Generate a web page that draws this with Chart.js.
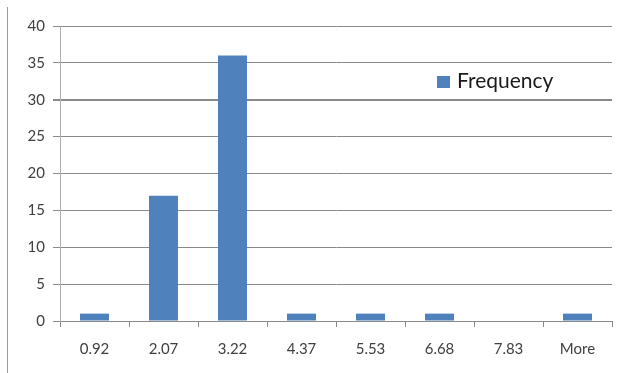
<!DOCTYPE html>
<html>
<head>
<meta charset="utf-8">
<script src="https://cdn.jsdelivr.net/npm/chart.js@4/dist/chart.umd.min.js"></script>
<style>
  html, body { margin: 0; padding: 0; background: #ffffff; }
  #wrap { position: relative; width: 619px; height: 373px; }
  canvas { display: block; }
</style>
</head>
<body>
<div id="wrap"><canvas id="c" width="619" height="373"></canvas></div>
<script>
// Histogram bins and counts
const binLabels = ['0.92', '2.07', '3.22', '4.37', '5.53', '6.68', '7.83', 'More'];
const frequency = [1, 17, 36, 1, 1, 1, 0, 1];
const seriesName = 'Frequency';

const FONT = 'Lato, "Open Sans", "Liberation Sans", sans-serif';
const BAR = '#4F81BD';
const GRID = '#8a8a8a';

// Outer frame line on the left side of the chart box
const framePlugin = {
  id: 'frame',
  beforeDraw(chart) {
    const ctx = chart.ctx;
    ctx.save();
    ctx.strokeStyle = '#9a9a9a';
    ctx.lineWidth = 1;
    ctx.beginPath();
    ctx.moveTo(7.5, 7);
    ctx.lineTo(7.5, 373);
    ctx.stroke();
    ctx.restore();
  }
};

// Legend drawn inside the plot area, upper right
const innerLegend = {
  id: 'innerLegend',
  afterDraw(chart) {
    const ctx = chart.ctx;
    const ds = chart.data.datasets[0];
    ctx.save();
    ctx.fillStyle = ds.backgroundColor;
    ctx.fillRect(437, 76, 13, 12);
    ctx.fillStyle = '#1a1a1a';
    ctx.font = '21px ' + FONT;
    ctx.textBaseline = 'middle';
    ctx.textAlign = 'left';
    ctx.fillText(ds.label, 457, 81);
    ctx.restore();
  }
};

new Chart(document.getElementById('c'), {
  type: 'bar',
  data: {
    labels: binLabels,
    datasets: [{
      label: seriesName,
      data: frequency,
      backgroundColor: BAR,
      borderWidth: 0,
      barPercentage: 0.42,
      categoryPercentage: 1.0
    }]
  },
  options: {
    responsive: false,
    animation: false,
    devicePixelRatio: 1,
    layout: { padding: { left: 7, right: 7, top: 26, bottom: 0 } },
    plugins: {
      legend: { display: false },
      tooltip: { enabled: false }
    },
    scales: {
      x: {
        afterFit(s) { s.height = 52; },
        grid: {
          display: true,
          drawOnChartArea: false,
          drawTicks: true,
          tickLength: 6,
          offset: true,
          color: GRID
        },
        border: { display: true, color: GRID, width: 1 },
        ticks: {
          color: '#404040',
          font: { family: FONT, size: 15 },
          padding: 13,
          maxRotation: 0
        }
      },
      y: {
        min: 0,
        max: 40,
        afterFit(s) { s.width = 53; },
        ticks: {
          stepSize: 5,
          color: '#404040',
          font: { family: FONT, size: 15 },
          padding: 8
        },
        grid: {
          color: GRID,
          lineWidth: (c) => (c.tick && c.tick.value === 30 ? 2 : 1),
          tickLength: 7,
          drawTicks: true
        },
        border: { display: true, color: '#b0b0b0', width: 1 }
      }
    }
  },
  plugins: [framePlugin, innerLegend]
});
</script>
</body>
</html>
